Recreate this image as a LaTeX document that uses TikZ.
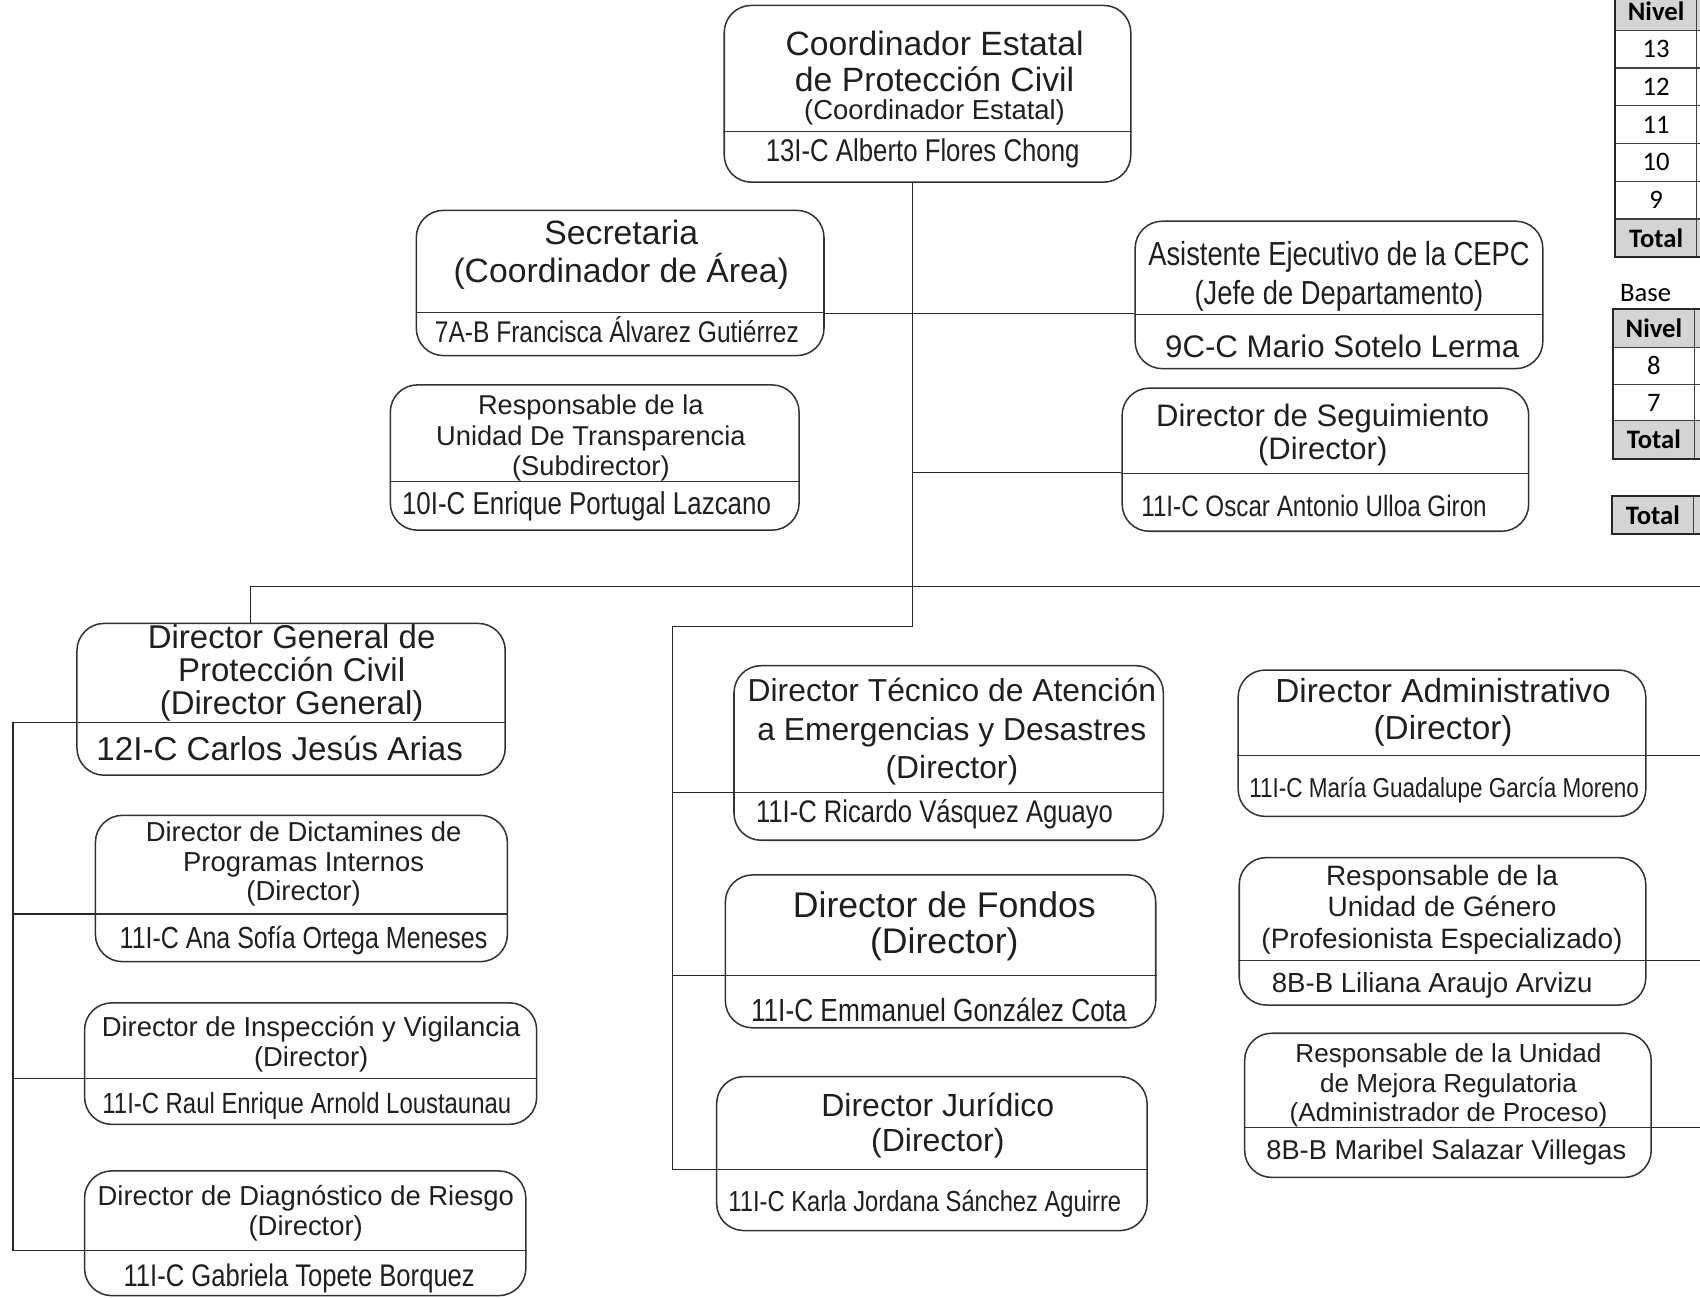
\documentclass[tikz,border=0pt]{standalone}
\usepackage{fontspec}
\setmainfont{Liberation Sans}
\newfontfamily\narrowfont[FakeStretch=0.82]{Liberation Sans}
\newfontfamily\tablefont{Carlito}
\usetikzlibrary{fit}

\begin{document}
\begin{tikzpicture}[x=0.02cm, y=-0.02cm,
		puesto/.style={draw=black!80, line width=0.8pt, rounded corners=0.5cm, inner sep=0pt},
		divisor/.style={draw=black!80, line width=0.6pt},
		linea/.style={draw=black!85, line width=0.6pt},
		titulo/.style={align=center, inner sep=0pt, text=black!88},
		nombre/.style={inner sep=0pt, text=black!88},
		celda/.style={draw=black!75, line width=0.5pt, minimum width=1.5cm, minimum height=0.69cm, inner sep=0pt, font=\tablefont\fontsize{14}{14}\selectfont},
		gris/.style={celda, fill=black!17, font=\tablefont\bfseries\fontsize{14}{14}\selectfont},
		marco/.style={draw=black!85, line width=1.2pt}]

		\useasboundingbox (0,0) rectangle (1568,1197);

		% cajas
		\node[puesto, fit={(668,5) (1043,168)}] (coord) {};
		\node[puesto, fit={(384,194) (760,328)}] (secre) {};
		\node[puesto, fit={(1047,204) (1423,340)}] (asist) {};
		\node[puesto, fit={(360,355) (737,489)}] (transp) {};
		\node[puesto, fit={(1035,358) (1410,490)}] (segui) {};
		\node[puesto, fit={(71,575) (466,715)}] (dgpc) {};
		\node[puesto, fit={(88,752) (468,887)}] (dicta) {};
		\node[puesto, fit={(78,925) (495,1037)}] (inspe) {};
		\node[puesto, fit={(78,1080) (485,1195)}] (diagn) {};
		\node[puesto, fit={(677,614) (1073,775)}] (tecni) {};
		\node[puesto, fit={(669,807) (1066,948)}] (fondo) {};
		\node[puesto, fit={(661,993) (1058,1135)}] (jurid) {};
		\node[puesto, fit={(1142,618) (1518,753)}] (admin) {};
		\node[puesto, fit={(1143,791) (1518,927)}] (gener) {};
		\node[puesto, fit={(1148,953) (1523,1086)}] (mejor) {};

		\draw[divisor] (coord.west |- 0,121) -- (coord.east |- 0,121);
		\draw[divisor] (secre.west |- 0,288) -- (secre.east |- 0,288);
		\draw[divisor] (asist.west |- 0,290) -- (asist.east |- 0,290);
		\draw[divisor] (transp.west |- 0,444) -- (transp.east |- 0,444);
		\draw[divisor] (segui.west |- 0,437) -- (segui.east |- 0,437);
		\draw[divisor] (dgpc.west |- 0,666) -- (dgpc.east |- 0,666);
		\draw[divisor] (dicta.west |- 0,843) -- (dicta.east |- 0,843);
		\draw[divisor] (inspe.west |- 0,995) -- (inspe.east |- 0,995);
		\draw[divisor] (diagn.west |- 0,1153) -- (diagn.east |- 0,1153);
		\draw[divisor] (tecni.west |- 0,731) -- (tecni.east |- 0,731);
		\draw[divisor] (fondo.west |- 0,900) -- (fondo.east |- 0,900);
		\draw[divisor] (jurid.west |- 0,1079) -- (jurid.east |- 0,1079);
		\draw[divisor] (admin.west |- 0,697) -- (admin.east |- 0,697);
		\draw[divisor] (gener.west |- 0,886) -- (gener.east |- 0,886);
		\draw[divisor] (mejor.west |- 0,1040) -- (mejor.east |- 0,1040);

		% textos
		\node[titulo, font=\fontsize{17.7}{18.8}\selectfont] (coordt) at (862,57) {Coordinador Estatal\\de Protección Civil};
		\node[titulo, font=\fontsize{14.4}{15}\selectfont] (coordr) at (862,104) {(Coordinador Estatal)};
		\node[nombre, font=\narrowfont\fontsize{16.5}{18}\selectfont] (coordn) at (851,141) {13I-C Alberto Flores Chong};

		\node[titulo, font=\fontsize{17.7}{19.9}\selectfont] (secret) at (573,235) {Secretaria\\(Coordinador de Área)};
		\node[nombre, font=\narrowfont\fontsize{15.7}{18}\selectfont] (secren) at (569,304) {7A-B Francisca Álvarez Gutiérrez};

		\node[titulo, font=\narrowfont\fontsize{17.5}{20.5}\selectfont] (asistt) at (1235,255) {Asistente Ejecutivo de la CEPC\\(Jefe de Departamento)};
		\node[nombre, font=\fontsize{16.4}{18}\selectfont] (asistn) at (1238,319) {9C-C Mario Sotelo Lerma};

		\node[titulo, font=\fontsize{14.3}{16.2}\selectfont] (transpt) at (545,404) {Responsable de la\\Unidad De Transparencia\\(Subdirector)};
		\node[nombre, font=\narrowfont\fontsize{16.6}{18}\selectfont] (transpn) at (541,467) {10I-C Enrique Portugal Lazcano};

		\node[titulo, font=\fontsize{16.3}{17.6}\selectfont] (seguit) at (1220,401) {Director de Seguimiento\\(Director)};
		\node[nombre, font=\narrowfont\fontsize{15.5}{18}\selectfont] (seguin) at (1212,467) {11I-C Oscar Antonio Ulloa Giron};

		\node[titulo, font=\fontsize{17.3}{17.4}\selectfont] (dgpct) at (269,621) {Director General de\\Protección Civil\\(Director General)};
		\node[nombre, font=\fontsize{17.4}{18}\selectfont] (dgpcn) at (258,690) {12I-C Carlos Jesús Arias};

		\node[titulo, font=\fontsize{14.4}{15.6}\selectfont] (dictat) at (280,797) {Director de Dictamines de\\Programas Internos\\(Director)};
		\node[nombre, font=\narrowfont\fontsize{16}{18}\selectfont] (dictan) at (280,867) {11I-C Ana Sofía Ortega Meneses};

		\node[titulo, font=\fontsize{14.4}{15.9}\selectfont] (inspet) at (287,963) {Director de Inspección y Vigilancia\\(Director)};
		\node[nombre, font=\narrowfont\fontsize{15.3}{18}\selectfont] (inspen) at (283,1020) {11I-C Raul Enrique Arnold Loustaunau};

		\node[titulo, font=\fontsize{14.4}{15.9}\selectfont] (diagnt) at (282,1119) {Director de Diagnóstico de Riesgo\\(Director)};
		\node[nombre, font=\narrowfont\fontsize{16.4}{18}\selectfont] (diagnn) at (276,1179) {11I-C Gabriela Topete Borquez};

		\node[titulo, font=\fontsize{16.7}{20.2}\selectfont] (tecnit) at (878,675) {Director Técnico de Atención\\a Emergencias y Desastres\\(Director)};
		\node[nombre, font=\narrowfont\fontsize{16.4}{18}\selectfont] (tecnin) at (862,751) {11I-C Ricardo Vásquez Aguayo};

		\node[titulo, font=\fontsize{18.7}{18.8}\selectfont] (fondot) at (871,854) {Director de Fondos\\(Director)};
		\node[nombre, font=\narrowfont\fontsize{16.8}{18}\selectfont] (fondon) at (866,931) {11I-C Emmanuel González Cota};

		\node[titulo, font=\fontsize{16.8}{18.2}\selectfont] (juridt) at (865,1038) {Director Jurídico\\(Director)};
		\node[nombre, font=\narrowfont\fontsize{15.2}{18}\selectfont] (juridn) at (853,1110) {11I-C Karla Jordana Sánchez Aguirre};

		\node[titulo, font=\fontsize{17.5}{19.3}\selectfont] (admint) at (1331,657) {Director Administrativo\\(Director)};
		\node[nombre, font=\narrowfont\fontsize{14.4}{18}\selectfont] (adminn) at (1332,729) {11I-C María Guadalupe García Moreno};

		\node[titulo, font=\fontsize{14.7}{16.5}\selectfont] (genert) at (1330,839) {Responsable de la\\Unidad de Género\\(Profesionista Especializado)};
		\node[nombre, font=\fontsize{14.5}{18}\selectfont] (genern) at (1321,909) {8B-B Liliana Araujo Arvizu};

		\node[titulo, font=\fontsize{13.7}{15.6}\selectfont] (mejort) at (1336,1001) {Responsable de la Unidad\\de Mejora Regulatoria\\(Administrador de Proceso)};
		\node[nombre, font=\fontsize{14.3}{18}\selectfont] (mejorn) at (1334,1063) {8B-B Maribel Salazar Villegas};

		% lineas
		\coordinate (t0) at (842,541);
		\coordinate (t1) at (842,578);
		\coordinate (t2) at (620,578);
		\coordinate (t3) at (620,1079);
		\draw[linea] (coord.south -| t0) -- (t1) -- (t2) -- (t3) -- (jurid.west |- t3);
		\draw[linea] (secre.east |- 0,289) -- (asist.west |- 0,289);
		\draw[linea] (t0 |- 0,436) -- (segui.west |- 0,436);
		\draw[linea] (t2 |- 0,731) -- (tecni.west |- 0,731);
		\draw[linea] (t2 |- 0,900) -- (fondo.west |- 0,900);

		\coordinate (b0) at (231,541);
		\coordinate (b1) at (1568,541);
		\draw[linea] (dgpc.north -| b0) -- (b0) -- (b1);

		\coordinate (l0) at (12,666);
		\coordinate (l1) at (12,1153);
		\draw[linea] (dgpc.west |- l0) -- (l0) -- (l1) -- (diagn.west |- l1);
		\draw[linea] (l0 |- 0,843) -- (dicta.west |- 0,843);
		\draw[linea] (l0 |- 0,995) -- (inspe.west |- 0,995);

		\coordinate (r0) at (1568,697);
		\coordinate (r1) at (1568,886);
		\coordinate (r2) at (1568,1040);
		\draw[linea] (admin.east |- r0) -- (r0);
		\draw[linea] (gener.east |- r1) -- (r1);
		\draw[linea] (mejor.east |- r2) -- (r2);

		% tablas
		\node[gris] (niv1) at (1527.5,10.5) {Nivel};
		\node[gris] (niv1b) at (1602.5,10.5) {};
		\foreach \n [count=\i] in {13,12,11,10,9} {
			\node[celda] (n\n) at (1527.5,10.5+34.8*\i) {\n};
			\node[celda] (n\n b) at (1602.5,10.5+34.8*\i) {};
		}
		\node[gris] (tot1) at (1527.5,219.3) {Total};
		\node[gris] (tot1b) at (1602.5,219.3) {};
		\draw[marco] (niv1.north west) rectangle (tot1b.south east);

		\node[anchor=west, inner sep=0pt, font=\tablefont\fontsize{14}{14}\selectfont] (base) at (1494,270) {Base};

		\node[gris] (niv2) at (1525.5,303) {Nivel};
		\node[gris] (niv2b) at (1600.5,303) {};
		\node[celda] (n8) at (1525.5,337.5) {8};
		\node[celda] (n8b) at (1600.5,337.5) {};
		\node[celda] (n7) at (1525.5,372) {7};
		\node[celda] (n7b) at (1600.5,372) {};
		\node[gris] (tot2) at (1525.5,405.5) {Total};
		\node[gris] (tot2b) at (1600.5,405.5) {};
		\draw[marco] (niv2.north west) rectangle (tot2b.south east);

		\node[gris] (tot3) at (1524.5,475) {Total};
		\node[gris] (tot3b) at (1599.5,475) {};
		\draw[marco] (tot3.north west) rectangle (tot3b.south east);
	\end{tikzpicture}
\end{document}
